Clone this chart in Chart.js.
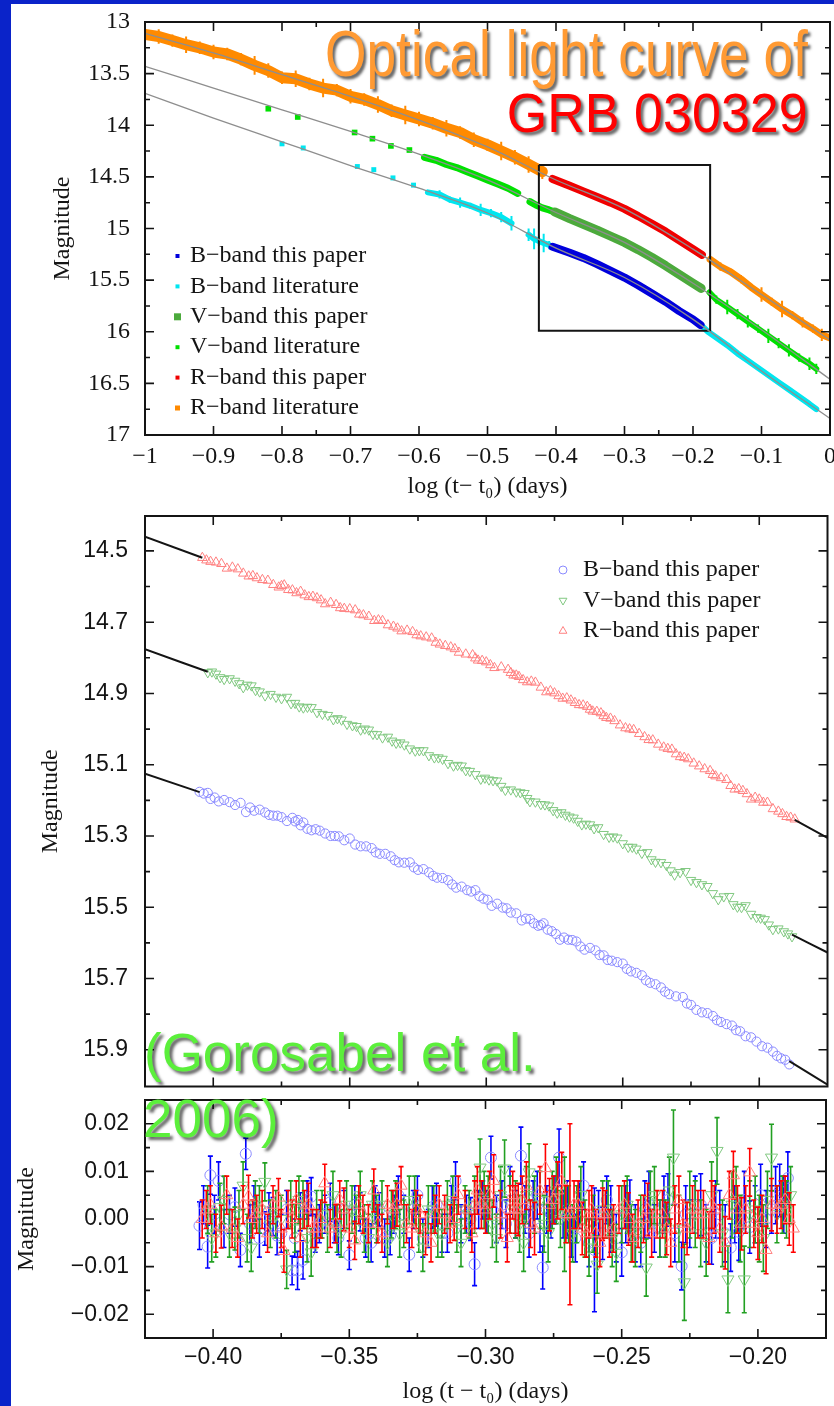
<!DOCTYPE html>
<html>
<head>
<meta charset="utf-8">
<title>Optical light curve of GRB 030329</title>
<script src="https://cdn.jsdelivr.net/npm/chart.js@4.4.1/dist/chart.umd.min.js"></script>
<style>
  html, body { margin: 0; padding: 0; }
  body { position: relative; width: 834px; height: 1406px; overflow: hidden; background: #0a23c9; }
  #sheet { position: absolute; left: 11px; top: 4px; right: 0; bottom: 0; background: #fff; }
  canvas { position: absolute; left: 11px; }
  #topCanvas { top: 4px; }
  #midCanvas { top: 505px; }
  #resCanvas { top: 1092px; }
  .note { position: absolute; z-index: 2; white-space: nowrap;
          font-family: "Liberation Sans", Arial, Helvetica, sans-serif;
          text-shadow: 3px 3px 3px rgba(0, 0, 0, 0.6); }
  #line1 { right: 26px; top: 21px; font-size: 65px; line-height: 65px; color: #ff9a33;
           transform: scaleX(0.82); transform-origin: right center; }
  #line2 { right: 26px; top: 85px; font-size: 56px; line-height: 56px; color: #ff0000;
           transform: scaleX(0.93); transform-origin: right center; }
  #cite1 { left: 144px; top: 1026px; font-size: 53px; line-height: 53px; color: #5bef3b; }
  #cite2 { left: 143px; top: 1092px; font-size: 53px; line-height: 53px; color: #5bef3b; }
</style>
</head>
<body>
<div id="sheet"></div>
<canvas id="topCanvas" width="823" height="501"></canvas>
<canvas id="midCanvas" width="823" height="588"></canvas>
<canvas id="resCanvas" width="823" height="314"></canvas>
<div class="note" id="line1">Optical light curve of</div>
<div class="note" id="line2">GRB 030329</div>
<div class="note" id="cite1">(Gorosabel et al.</div>
<div class="note" id="cite2">2006)</div>
<script>
const SERIF = '"Liberation Serif", "Times New Roman", Times, serif';
const SANS = '"Liberation Sans", Arial, Helvetica, sans-serif';
const INK = '#141414';

// ---------- top panel: whole light curve ----------
const topXTicks = [-1, -0.9, -0.8, -0.7, -0.6, -0.5, -0.4, -0.3, -0.2, -0.1, 0];
const topXLabels = ['−1', '−0.9', '−0.8', '−0.7', '−0.6', '−0.5', '−0.4', '−0.3', '−0.2', '−0.1', '0'];
const topXMinor = [-0.75, -0.25];
const topYTicks = [13, 13.5, 14, 14.5, 15, 15.5, 16, 16.5, 17];
const topYLabels = ['13', '13.5', '14', '14.5', '15', '15.5', '16', '16.5', '17'];
const topYMinor = [13.25, 13.75, 14.25, 14.75, 15.25, 15.75, 16.25, 16.75];
const topLegendLabels = ['B−band this paper', 'B−band literature', 'V−band this paper',
                         'V−band literature', 'R−band this paper', 'R−band literature'];

// grey model curves
const fitTopX = [-1, -0.9, -0.8, -0.7, -0.6, -0.5, -0.4, -0.3, -0.2, -0.1, 0];
const rFitTop = [13.11, 13.30, 13.51, 13.72, 13.95, 14.21, 14.53, 14.81, 15.20, 15.64, 16.08];
const vFitTop = [13.43, 13.64, 13.85, 14.06, 14.28, 14.53, 14.845, 15.135, 15.53, 15.98, 16.46];
const bFitTop = [13.69, 13.93, 14.16, 14.39, 14.61, 14.85, 15.19, 15.475, 15.88, 16.38, 16.84];

// zoom window drawn on the top panel
const boxX = [-0.425, -0.175, -0.175, -0.425, -0.425];
const boxY = [14.385, 14.385, 15.99, 15.99, 14.385];

// R band
const rLitEarlyX = [-1.00, -0.98, -0.96, -0.94, -0.92, -0.90, -0.88, -0.86, -0.84, -0.82,
                    -0.80, -0.78, -0.76, -0.74, -0.72, -0.70, -0.68, -0.66, -0.64, -0.62,
                    -0.60, -0.58, -0.56, -0.54, -0.52, -0.50, -0.48, -0.46, -0.44, -0.42];
const rLitEarlyY = [13.12, 13.14, 13.18, 13.22, 13.25, 13.29, 13.31, 13.36, 13.42, 13.47,
                    13.54, 13.55, 13.60, 13.64, 13.66, 13.72, 13.75, 13.80, 13.86, 13.90,
                    13.94, 13.98, 14.03, 14.07, 14.14, 14.19, 14.25, 14.31, 14.38, 14.45];
const rLitEarlyErr = [0.06, 0.07, 0.06, 0.08, 0.06, 0.07, 0.06, 0.06, 0.09, 0.07,
                      0.06, 0.08, 0.06, 0.09, 0.06, 0.07, 0.06, 0.08, 0.06, 0.09,
                      0.07, 0.06, 0.08, 0.06, 0.07, 0.06, 0.09, 0.07, 0.08, 0.07];
const rLitLateX = [-0.175, -0.16, -0.145, -0.13, -0.115, -0.10, -0.085, -0.07, -0.055, -0.04, -0.025, -0.012, 0.0];
const rLitLateY = [15.30, 15.37, 15.42, 15.49, 15.57, 15.64, 15.71, 15.78, 15.84, 15.91, 15.97, 16.03, 16.06];
const rLitLateErr = [0.03, 0.04, 0.03, 0.04, 0.03, 0.07, 0.04, 0.08, 0.04, 0.05, 0.04, 0.06, 0.04];
const rPaperX = [-0.405, -0.38, -0.36, -0.34, -0.32, -0.30, -0.28, -0.26, -0.24, -0.22, -0.20, -0.187];
const rPaperY = [14.52, 14.585, 14.64, 14.695, 14.75, 14.81, 14.88, 14.955, 15.03, 15.115, 15.20, 15.255];

// V band
const vLitDotsX = [-0.82, -0.777, -0.694, -0.668, -0.641, -0.614];
const vLitDotsY = [13.84, 13.92, 14.07, 14.13, 14.20, 14.24];
const vLitEarlyX = [-0.592, -0.575, -0.56, -0.545, -0.53, -0.515, -0.50, -0.485, -0.47, -0.456];
const vLitEarlyY = [14.31, 14.34, 14.38, 14.41, 14.45, 14.49, 14.53, 14.57, 14.61, 14.66];
const vLitMidX = [-0.438, -0.43, -0.42, -0.41, -0.402];
const vLitMidY = [14.74, 14.77, 14.80, 14.82, 14.84];
const vLitLateX = [-0.176, -0.166, -0.15, -0.135, -0.12, -0.105, -0.09, -0.075, -0.06, -0.045, -0.03, -0.02];
const vLitLateY = [15.62, 15.69, 15.76, 15.83, 15.90, 15.97, 16.04, 16.11, 16.18, 16.25, 16.31, 16.36];
const vLitLateErr = [0.03, 0.04, 0.07, 0.05, 0.06, 0.04, 0.07, 0.05, 0.06, 0.04, 0.06, 0.05];
const vPaperX = [-0.402, -0.38, -0.36, -0.34, -0.32, -0.30, -0.28, -0.26, -0.24, -0.22, -0.20, -0.188];
const vPaperY = [14.84, 14.905, 14.96, 15.015, 15.075, 15.135, 15.205, 15.28, 15.36, 15.445, 15.53, 15.58];

// B band
const bLitDotsX = [-0.80, -0.769, -0.69, -0.666, -0.638, -0.608];
const bLitDotsY = [14.18, 14.22, 14.40, 14.43, 14.51, 14.58];
const bLitEarlyX = [-0.587, -0.57, -0.555, -0.54, -0.525, -0.51, -0.495, -0.48, -0.465];
const bLitEarlyY = [14.65, 14.67, 14.72, 14.75, 14.78, 14.82, 14.85, 14.89, 14.95];
const bLitEarlyErr = [0.02, 0.04, 0.03, 0.05, 0.03, 0.06, 0.04, 0.05, 0.07];
const bLitMidX = [-0.44, -0.432, -0.425, -0.418, -0.41];
const bLitMidY = [15.06, 15.10, 15.12, 15.14, 15.16];
const bLitMidErr = [0.06, 0.10, 0.05, 0.09, 0.04];
const bLitLateX = [-0.186, -0.178, -0.165, -0.15, -0.135, -0.12, -0.105, -0.09, -0.075, -0.06, -0.045, -0.03, -0.02];
const bLitLateY = [15.95, 16.00, 16.06, 16.13, 16.21, 16.28, 16.35, 16.42, 16.49, 16.56, 16.63, 16.70, 16.75];
const bPaperX = [-0.405, -0.38, -0.36, -0.34, -0.32, -0.30, -0.28, -0.26, -0.24, -0.22, -0.20, -0.189];
const bPaperY = [15.177, 15.235, 15.285, 15.345, 15.41, 15.475, 15.55, 15.63, 15.71, 15.80, 15.88, 15.935];

// ---------- middle panel (zoom) and bottom panel (residuals) ----------
const zoomXTicks = [-0.40, -0.35, -0.30, -0.25, -0.20];
const zoomXLabels = ['−0.40', '−0.35', '−0.30', '−0.25', '−0.20'];
const zoomXMinor = [-0.375, -0.325, -0.275, -0.225];
const midYTicks = [14.5, 14.7, 14.9, 15.1, 15.3, 15.5, 15.7, 15.9];
const midYLabels = ['14.5', '14.7', '14.9', '15.1', '15.3', '15.5', '15.7', '15.9'];
const midYMinor = [14.6, 14.8, 15.0, 15.2, 15.4, 15.6, 15.8];
const resYTicks = [-0.02, -0.01, 0, 0.01, 0.02];
const resYLabels = ['−0.02', '−0.01', '0.00', '0.01', '0.02'];
const resYMinor = [-0.015, -0.005, 0.005, 0.015];
const midLegendLabels = ['B−band this paper', 'V−band this paper', 'R−band this paper'];

// black model pieces outside the data
const rHeadX = [-0.425, -0.404], rHeadY = [14.46, 14.519];
const rTailX = [-0.187, -0.175], rTailY = [15.255, 15.305];
const vHeadX = [-0.425, -0.402], vHeadY = [14.776, 14.839];
const vTailX = [-0.188, -0.175], vTailY = [15.577, 15.627];
const bHeadX = [-0.425, -0.405], bHeadY = [15.125, 15.177];
const bTailX = [-0.189, -0.175], bTailY = [15.932, 15.998];

// B band, this paper: epoch, magnitude, residual, error
const bX = [-0.4050, -0.4035, -0.4020, -0.4010, -0.3995, -0.3980, -0.3960, -0.3940, -0.3920, -0.3900,
            -0.3880, -0.3865, -0.3850, -0.3830, -0.3810, -0.3795, -0.3780, -0.3765, -0.3750, -0.3730,
            -0.3710, -0.3700, -0.3690, -0.3680, -0.3670, -0.3655, -0.3640, -0.3625, -0.3610, -0.3590,
            -0.3570, -0.3555, -0.3540, -0.3520, -0.3500, -0.3480, -0.3460, -0.3440, -0.3420, -0.3405,
            -0.3390, -0.3370, -0.3350, -0.3335, -0.3320, -0.3300, -0.3280, -0.3265, -0.3250, -0.3230,
            -0.3210, -0.3195, -0.3180, -0.3160, -0.3140, -0.3125, -0.3110, -0.3090, -0.3070, -0.3055,
            -0.3040, -0.3025, -0.3010, -0.2995, -0.2980, -0.2960, -0.2940, -0.2925, -0.2910, -0.2890,
            -0.2870, -0.2855, -0.2840, -0.2825, -0.2810, -0.2800, -0.2790, -0.2775, -0.2760, -0.2745,
            -0.2730, -0.2715, -0.2700, -0.2685, -0.2670, -0.2655, -0.2640, -0.2620, -0.2600, -0.2585,
            -0.2570, -0.2555, -0.2540, -0.2520, -0.2500, -0.2485, -0.2470, -0.2450, -0.2430, -0.2415,
            -0.2400, -0.2380, -0.2360, -0.2345, -0.2330, -0.2305, -0.2280, -0.2265, -0.2250, -0.2230,
            -0.2210, -0.2190, -0.2170, -0.2155, -0.2140, -0.2120, -0.2100, -0.2085, -0.2070, -0.2050,
            -0.2030, -0.2010, -0.1990, -0.1970, -0.1950, -0.1935, -0.1920, -0.1905, -0.1890];
const bMag = [15.176, 15.181, 15.179, 15.196, 15.192, 15.203, 15.199, 15.205, 15.213, 15.207,
              15.233, 15.220, 15.229, 15.226, 15.234, 15.241, 15.243, 15.243, 15.247, 15.258,
              15.249, 15.259, 15.255, 15.270, 15.262, 15.280, 15.284, 15.281, 15.285, 15.293,
              15.300, 15.300, 15.301, 15.312, 15.307, 15.324, 15.329, 15.329, 15.334, 15.346,
              15.350, 15.350, 15.357, 15.368, 15.374, 15.375, 15.374, 15.388, 15.395, 15.393,
              15.402, 15.412, 15.417, 15.418, 15.424, 15.436, 15.445, 15.442, 15.452, 15.456,
              15.452, 15.469, 15.476, 15.479, 15.496, 15.490, 15.501, 15.503, 15.515, 15.517,
              15.537, 15.532, 15.533, 15.545, 15.552, 15.550, 15.545, 15.563, 15.567, 15.575,
              15.591, 15.585, 15.591, 15.592, 15.596, 15.610, 15.619, 15.614, 15.621, 15.634,
              15.635, 15.648, 15.650, 15.654, 15.658, 15.673, 15.680, 15.684, 15.691, 15.705,
              15.712, 15.716, 15.725, 15.737, 15.744, 15.750, 15.752, 15.770, 15.774, 15.788,
              15.795, 15.797, 15.805, 15.817, 15.822, 15.828, 15.832, 15.845, 15.848, 15.862,
              15.865, 15.877, 15.890, 15.894, 15.905, 15.917, 15.924, 15.928, 15.941];
const bRes = [-0.0014, 0.0030, -0.0058, 0.0092, 0.0010, 0.0080, -0.0020, 0.0010, 0.0025, -0.0065,
              0.0137, -0.0010, 0.0030, -0.0040, -0.0020, 0.0015, 0.0005, -0.0035, -0.0030, 0.0020,
              -0.0108, -0.0040, -0.0108, 0.0015, -0.0086, 0.0040, 0.0047, -0.0030, -0.0010, 0.0010,
              0.0035, -0.0010, -0.0040, 0.0020, -0.0076, 0.0030, 0.0015, -0.0040, -0.0050, 0.0030,
              0.0020, -0.0040, -0.0035, 0.0010, 0.0050, 0.0010, -0.0075, 0.0020, 0.0050, -0.0040,
              -0.0020, 0.0025, 0.0030, -0.0030, -0.0030, 0.0030, 0.0080, -0.0010, 0.0010, 0.0000,
              -0.0095, 0.0020, 0.0040, 0.0015, 0.0129, 0.0000, 0.0030, -0.0010, 0.0060, 0.0010,
              0.0133, 0.0020, -0.0030, 0.0030, 0.0050, -0.0020, -0.0102, 0.0020, 0.0010, 0.0040,
              0.0129, 0.0010, 0.0020, -0.0030, -0.0040, 0.0030, 0.0070, -0.0050, -0.0065, 0.0010,
              -0.0030, 0.0040, 0.0000, -0.0040, -0.0070, 0.0010, 0.0017, -0.0030, -0.0050, 0.0020,
              0.0030, -0.0020, -0.0020, 0.0030, 0.0040, -0.0030, -0.0099, 0.0010, -0.0010, 0.0030,
              0.0030, -0.0030, -0.0040, 0.0020, 0.0010, -0.0030, -0.0060, 0.0010, -0.0027, 0.0040,
              -0.0017, 0.0010, 0.0050, 0.0000, 0.0020, 0.0050, 0.0060, 0.0030, 0.0086];
const bErr = [0.005, 0.004, 0.0045, 0.004, 0.004, 0.004, 0.004, 0.004, 0.004, 0.0035,
              0.0033, 0.004, 0.004, 0.004, 0.0035, 0.004, 0.004, 0.004, 0.004, 0.004,
              0.003, 0.004, 0.004, 0.004, 0.004, 0.004, 0.004, 0.004, 0.004, 0.004,
              0.004, 0.004, 0.0035, 0.004, 0.003, 0.004, 0.004, 0.004, 0.004, 0.004,
              0.0035, 0.004, 0.004, 0.004, 0.004, 0.004, 0.0035, 0.004, 0.004, 0.004,
              0.004, 0.0045, 0.0045, 0.004, 0.004, 0.004, 0.004, 0.004, 0.004, 0.0045,
              0.0045, 0.004, 0.004, 0.0045, 0.0045, 0.005, 0.005, 0.005, 0.005, 0.005,
              0.006, 0.005, 0.005, 0.005, 0.005, 0.005, 0.0045, 0.005, 0.005, 0.005,
              0.006, 0.005, 0.006, 0.005, 0.005, 0.005, 0.005, 0.005, 0.013, 0.005,
              0.0055, 0.005, 0.007, 0.005, 0.005, 0.006, 0.0065, 0.006, 0.005, 0.006,
              0.007, 0.005, 0.006, 0.006, 0.0055, 0.006, 0.005, 0.006, 0.005, 0.006,
              0.0065, 0.006, 0.0055, 0.006, 0.005, 0.006, 0.005, 0.006, 0.006, 0.006,
              0.0055, 0.006, 0.0065, 0.006, 0.005, 0.006, 0.0055, 0.006, 0.0055];

// V band, this paper
const vX = [-0.4020, -0.4005, -0.3990, -0.3975, -0.3960, -0.3940, -0.3920, -0.3905, -0.3890, -0.3875,
            -0.3860, -0.3845, -0.3830, -0.3810, -0.3790, -0.3770, -0.3750, -0.3730, -0.3715, -0.3700,
            -0.3685, -0.3670, -0.3655, -0.3640, -0.3620, -0.3600, -0.3580, -0.3560, -0.3545, -0.3530,
            -0.3510, -0.3490, -0.3475, -0.3460, -0.3445, -0.3430, -0.3415, -0.3400, -0.3380, -0.3360,
            -0.3345, -0.3330, -0.3315, -0.3300, -0.3280, -0.3260, -0.3245, -0.3230, -0.3210, -0.3190,
            -0.3175, -0.3160, -0.3140, -0.3120, -0.3105, -0.3090, -0.3075, -0.3060, -0.3040, -0.3020,
            -0.3005, -0.2990, -0.2975, -0.2960, -0.2945, -0.2930, -0.2910, -0.2890, -0.2875, -0.2860,
            -0.2850, -0.2840, -0.2820, -0.2800, -0.2785, -0.2770, -0.2755, -0.2740, -0.2725, -0.2710,
            -0.2695, -0.2680, -0.2665, -0.2650, -0.2635, -0.2620, -0.2605, -0.2590, -0.2570, -0.2550,
            -0.2535, -0.2520, -0.2500, -0.2480, -0.2465, -0.2450, -0.2430, -0.2410, -0.2395, -0.2380,
            -0.2360, -0.2340, -0.2325, -0.2310, -0.2290, -0.2270, -0.2250, -0.2230, -0.2210, -0.2190,
            -0.2170, -0.2150, -0.2130, -0.2110, -0.2095, -0.2080, -0.2065, -0.2050, -0.2030, -0.2010,
            -0.1995, -0.1980, -0.1965, -0.1950, -0.1930, -0.1910, -0.1895, -0.1880];
const vMag = [14.841, 14.839, 14.845, 14.855, 14.860, 14.858, 14.865, 14.872, 14.883, 14.876,
              14.878, 14.891, 14.895, 14.906, 14.902, 14.910, 14.914, 14.910, 14.928, 14.927,
              14.937, 14.940, 14.938, 14.939, 14.953, 14.958, 14.961, 14.973, 14.970, 14.974,
              14.986, 14.990, 14.992, 15.002, 14.999, 15.002, 15.014, 15.015, 15.024, 15.022,
              15.033, 15.039, 15.038, 15.044, 15.055, 15.061, 15.060, 15.060, 15.074, 15.080,
              15.080, 15.084, 15.096, 15.103, 15.101, 15.103, 15.116, 15.118, 15.127, 15.140,
              15.137, 15.142, 15.144, 15.145, 15.160, 15.171, 15.170, 15.176, 15.178, 15.180,
              15.194, 15.203, 15.204, 15.211, 15.212, 15.215, 15.228, 15.235, 15.234, 15.241,
              15.246, 15.249, 15.258, 15.268, 15.266, 15.268, 15.279, 15.276, 15.295, 15.303,
              15.302, 15.305, 15.321, 15.331, 15.331, 15.336, 15.348, 15.346, 15.366, 15.373,
              15.374, 15.382, 15.397, 15.409, 15.402, 15.399, 15.424, 15.430, 15.436, 15.441,
              15.461, 15.478, 15.470, 15.469, 15.492, 15.499, 15.500, 15.495, 15.519, 15.528,
              15.530, 15.534, 15.549, 15.562, 15.560, 15.568, 15.574, 15.582];
const vRes = [0.0020, -0.0040, -0.0030, 0.0025, 0.0040, -0.0030, -0.0020, 0.0010, 0.0070, -0.0040,
              -0.0060, 0.0030, 0.0020, 0.0078, -0.0010, 0.0010, 0.0000, -0.0106, 0.0030, -0.0020,
              0.0040, 0.0030, -0.0040, -0.0070, 0.0010, 0.0010, -0.0020, 0.0050, -0.0020, -0.0030,
              0.0030, 0.0020, 0.0000, 0.0050, -0.0020, -0.0040, 0.0030, 0.0000, 0.0030, -0.0050,
              0.0010, 0.0030, -0.0030, -0.0010, 0.0040, 0.0040, -0.0020, -0.0060, 0.0020, 0.0020,
              -0.0030, -0.0030, 0.0030, 0.0040, -0.0020, -0.0050, 0.0020, 0.0010, 0.0030, 0.0108,
              0.0040, 0.0030, -0.0010, -0.0040, 0.0050, 0.0106, 0.0030, 0.0020, -0.0010, -0.0050,
              0.0050, 0.0098, 0.0030, 0.0040, -0.0010, -0.0030, 0.0040, 0.0060, 0.0000, 0.0010,
              0.0010, -0.0030, 0.0010, 0.0050, -0.0020, -0.0060, -0.0010, -0.0096, 0.0020, 0.0020,
              -0.0040, -0.0071, 0.0010, 0.0030, -0.0030, -0.0040, -0.0010, -0.0102, 0.0040, 0.0050,
              -0.0020, -0.0020, 0.0060, 0.0129, -0.0020, -0.0133, 0.0030, 0.0010, -0.0030, -0.0050,
              0.0050, 0.0143, -0.0030, -0.0127, 0.0030, 0.0040, -0.0020, -0.0127, 0.0010, 0.0020,
              -0.0020, -0.0040, 0.0040, 0.0129, 0.0010, 0.0030, 0.0020, 0.0050];
const vErr = [0.005, 0.005, 0.005, 0.005, 0.005, 0.005, 0.0045, 0.005, 0.005, 0.005,
              0.005, 0.005, 0.005, 0.004, 0.005, 0.005, 0.005, 0.004, 0.005, 0.005,
              0.005, 0.005, 0.005, 0.005, 0.005, 0.005, 0.005, 0.005, 0.005, 0.005,
              0.005, 0.005, 0.005, 0.005, 0.005, 0.005, 0.005, 0.005, 0.005, 0.005,
              0.005, 0.005, 0.005, 0.005, 0.005, 0.005, 0.005, 0.005, 0.005, 0.005,
              0.005, 0.005, 0.005, 0.005, 0.005, 0.005, 0.005, 0.005, 0.006, 0.006,
              0.006, 0.006, 0.005, 0.005, 0.006, 0.006, 0.006, 0.006, 0.006, 0.006,
              0.006, 0.006, 0.006, 0.006, 0.006, 0.006, 0.006, 0.007, 0.006, 0.012,
              0.006, 0.006, 0.006, 0.006, 0.006, 0.006, 0.006, 0.006, 0.006, 0.006,
              0.006, 0.006, 0.006, 0.006, 0.006, 0.006, 0.006, 0.006, 0.006, 0.006,
              0.006, 0.006, 0.007, 0.010, 0.007, 0.008, 0.007, 0.007, 0.007, 0.007,
              0.007, 0.007, 0.007, 0.007, 0.007, 0.007, 0.007, 0.007, 0.007, 0.007,
              0.007, 0.007, 0.006, 0.007, 0.006, 0.006, 0.006, 0.006];

// R band, this paper
const rX = [-0.4040, -0.4025, -0.4010, -0.3990, -0.3970, -0.3950, -0.3930, -0.3910, -0.3890, -0.3870,
            -0.3855, -0.3840, -0.3820, -0.3800, -0.3780, -0.3760, -0.3750, -0.3740, -0.3725, -0.3710,
            -0.3695, -0.3680, -0.3665, -0.3650, -0.3635, -0.3620, -0.3605, -0.3590, -0.3570, -0.3550,
            -0.3535, -0.3520, -0.3500, -0.3480, -0.3465, -0.3450, -0.3430, -0.3410, -0.3395, -0.3380,
            -0.3360, -0.3340, -0.3325, -0.3310, -0.3290, -0.3270, -0.3255, -0.3240, -0.3220, -0.3200,
            -0.3185, -0.3170, -0.3150, -0.3130, -0.3115, -0.3100, -0.3075, -0.3050, -0.3040, -0.3030,
            -0.3015, -0.3000, -0.2985, -0.2970, -0.2945, -0.2920, -0.2910, -0.2900, -0.2890, -0.2880,
            -0.2865, -0.2850, -0.2835, -0.2820, -0.2800, -0.2780, -0.2765, -0.2750, -0.2735, -0.2720,
            -0.2705, -0.2690, -0.2675, -0.2660, -0.2645, -0.2630, -0.2620, -0.2610, -0.2595, -0.2580,
            -0.2570, -0.2560, -0.2545, -0.2530, -0.2510, -0.2490, -0.2475, -0.2460, -0.2440, -0.2420,
            -0.2405, -0.2390, -0.2370, -0.2350, -0.2335, -0.2320, -0.2305, -0.2290, -0.2275, -0.2260,
            -0.2240, -0.2220, -0.2200, -0.2180, -0.2170, -0.2160, -0.2140, -0.2120, -0.2105, -0.2090,
            -0.2075, -0.2060, -0.2045, -0.2030, -0.2015, -0.2000, -0.1985, -0.1970, -0.1950, -0.1930,
            -0.1915, -0.1900, -0.1885, -0.1870];
const rMag = [14.519, 14.526, 14.530, 14.532, 14.536, 14.549, 14.546, 14.551, 14.563, 14.571,
              14.570, 14.576, 14.581, 14.583, 14.595, 14.602, 14.598, 14.596, 14.609, 14.610,
              14.618, 14.614, 14.624, 14.629, 14.628, 14.632, 14.638, 14.649, 14.645, 14.651,
              14.660, 14.662, 14.663, 14.666, 14.678, 14.680, 14.684, 14.696, 14.694, 14.696,
              14.708, 14.712, 14.717, 14.725, 14.723, 14.727, 14.736, 14.739, 14.742, 14.745,
              14.757, 14.762, 14.766, 14.770, 14.775, 14.785, 14.790, 14.792, 14.801, 14.807,
              14.808, 14.812, 14.820, 14.828, 14.826, 14.833, 14.842, 14.849, 14.849, 14.853,
              14.862, 14.868, 14.866, 14.869, 14.883, 14.896, 14.893, 14.899, 14.907, 14.914,
              14.913, 14.919, 14.926, 14.932, 14.933, 14.937, 14.945, 14.950, 14.951, 14.955,
              14.963, 14.968, 14.970, 14.977, 14.989, 14.997, 15.000, 15.002, 15.013, 15.022,
              15.030, 15.031, 15.043, 15.051, 15.055, 15.057, 15.070, 15.078, 15.080, 15.084,
              15.096, 15.104, 15.112, 15.117, 15.128, 15.132, 15.137, 15.142, 15.159, 15.169,
              15.168, 15.173, 15.182, 15.197, 15.192, 15.197, 15.206, 15.206, 15.224, 15.231,
              15.238, 15.246, 15.248, 15.253];
const rRes = [0.0000, 0.0020, 0.0030, -0.0030, -0.0016, 0.0050, -0.0020, -0.0040, 0.0030, 0.0047,
              0.0000, 0.0010, 0.0020, -0.0030, 0.0030, 0.0045, -0.0020, -0.0067, 0.0020, 0.0000,
              0.0040, -0.0040, 0.0020, 0.0030, -0.0020, -0.0020, 0.0000, 0.0075, -0.0020, -0.0010,
              0.0040, 0.0020, -0.0020, -0.0045, 0.0030, 0.0010, -0.0010, 0.0060, -0.0010, -0.0030,
              0.0030, 0.0020, 0.0030, 0.0070, -0.0010, -0.0020, 0.0020, 0.0010, -0.0030, -0.0050,
              0.0010, 0.0030, 0.0010, -0.0010, 0.0000, 0.0050, 0.0020, -0.0030, 0.0030, 0.0060,
              0.0030, 0.0020, 0.0050, 0.0080, 0.0010, -0.0040, 0.0020, 0.0050, 0.0020, 0.0020,
              0.0040, 0.0070, -0.0010, -0.0020, 0.0060, 0.0107, 0.0030, 0.0040, 0.0060, 0.0080,
              0.0010, 0.0010, 0.0030, 0.0030, -0.0020, -0.0030, 0.0010, 0.0020, -0.0030, -0.0050,
              0.0010, 0.0010, -0.0030, -0.0020, 0.0020, 0.0030, 0.0000, -0.0040, -0.0010, 0.0000,
              0.0020, -0.0030, 0.0010, 0.0010, -0.0020, -0.0050, 0.0020, 0.0040, -0.0010, -0.0020,
              0.0020, 0.0010, 0.0010, -0.0040, 0.0030, 0.0020, -0.0020, -0.0050, 0.0050, 0.0092,
              0.0020, -0.0010, 0.0020, 0.0098, -0.0010, -0.0030, 0.0000, -0.0065, 0.0030, 0.0020,
              0.0030, 0.0040, 0.0000, -0.0020];
const rErr = [0.004, 0.004, 0.004, 0.004, 0.0045, 0.004, 0.004, 0.004, 0.004, 0.0045,
              0.004, 0.004, 0.004, 0.004, 0.004, 0.004, 0.004, 0.0045, 0.004, 0.004,
              0.004, 0.004, 0.004, 0.0045, 0.004, 0.004, 0.004, 0.004, 0.004, 0.004,
              0.004, 0.0045, 0.004, 0.004, 0.004, 0.004, 0.004, 0.0045, 0.004, 0.004,
              0.004, 0.004, 0.0045, 0.004, 0.004, 0.004, 0.004, 0.004, 0.0045, 0.004,
              0.004, 0.004, 0.004, 0.004, 0.0045, 0.004, 0.004, 0.004, 0.005, 0.005,
              0.005, 0.005, 0.005, 0.0055, 0.005, 0.005, 0.005, 0.005, 0.005, 0.0055,
              0.005, 0.005, 0.005, 0.0055, 0.005, 0.005, 0.0055, 0.005, 0.006, 0.006,
              0.006, 0.019, 0.005, 0.005, 0.0055, 0.005, 0.005, 0.005, 0.005, 0.005,
              0.0055, 0.005, 0.005, 0.005, 0.005, 0.005, 0.0055, 0.005, 0.005, 0.005,
              0.0055, 0.005, 0.005, 0.005, 0.0055, 0.005, 0.005, 0.005, 0.005, 0.0055,
              0.005, 0.005, 0.005, 0.0055, 0.005, 0.005, 0.005, 0.0055, 0.005, 0.005,
              0.005, 0.0055, 0.005, 0.005, 0.005, 0.0055, 0.005, 0.005, 0.0055, 0.005,
              0.005, 0.005, 0.0055, 0.005];

// colours
const C = {
  bPaper: '#0000dc', bLit: '#00e6f0', vPaper: '#4caa3c', vLit: '#00e000',
  rPaper: '#f00000', rLit: '#ff8a00', fitGrey: '#8e8e8e',
  bSoft: '#8a8aff', vSoft: '#80c880', rSoft: '#ff8080',
  bBar: '#0000ff', vBar: '#22a022', rBar: '#ff0000'
};

function pts(xs, ys) {
  return xs.map((x, i) => ({x: x, y: ys[i]}));
}

function fitLine(xs, ys, color, width) {
  return {data: pts(xs, ys), showLine: true, borderColor: color, borderWidth: width,
          pointRadius: 0, cubicInterpolationMode: 'monotone', clip: 0, order: 0};
}

function band(xs, ys, color, width, err, order) {
  return {data: pts(xs, ys), showLine: true, borderColor: color, borderWidth: width,
          borderJoinStyle: 'round', borderCapStyle: 'round', pointRadius: 0, clip: 0,
          order: order || 2, yErr: err, errColor: color, errWidth: 2};
}

function dots(xs, ys, color, r) {
  return {data: pts(xs, ys), showLine: false, pointStyle: 'rect', pointRadius: r,
          backgroundColor: color, borderColor: color, borderWidth: 0, clip: 0, order: 2};
}

function hollow(xs, ys, color, style, rot, r) {
  return {data: pts(xs, ys), showLine: false, pointStyle: style, pointRotation: rot,
          pointRadius: r, borderColor: color, backgroundColor: 'rgba(0,0,0,0)',
          borderWidth: 1, clip: 0, order: 1};
}

function axisX(c) {
  return {
    type: 'linear', position: 'bottom', min: c.min, max: c.max,
    grid: {display: false, drawTicks: false}, border: {display: false},
    afterBuildTicks: s => { s.ticks = c.ticks.map(v => ({value: v})); },
    afterFit: s => { s.height = c.height; s.paddingLeft = 0; s.paddingRight = 0; },
    ticks: {display: !!c.labels, autoSkip: false, maxRotation: 0, minRotation: 0,
            padding: c.pad || 0, color: INK, font: c.font,
            callback: (v, i) => (c.labels ? c.labels[i] : '')},
    title: c.title
      ? {display: true, text: c.title, color: INK, font: {family: SERIF, size: 24},
         padding: {top: 0, bottom: c.titlePad}}
      : {display: false}
  };
}

function axisY(c) {
  return {
    type: 'linear', position: 'left', min: c.min, max: c.max, reverse: !!c.reverse,
    grid: {display: false, drawTicks: false}, border: {display: false},
    afterBuildTicks: s => { s.ticks = c.ticks.map(v => ({value: v})); },
    afterFit: s => { s.width = 134; s.paddingTop = 0; s.paddingBottom = 0; },
    ticks: {autoSkip: false, padding: c.pad, color: INK, font: c.font,
            callback: (v, i) => c.labels[i]},
    title: {display: true, text: 'Magnitude', color: INK, font: {family: SERIF, size: 24},
            padding: {top: c.titlePad, bottom: 0}}
  };
}

// frame with inward ticks on all four sides
function frameTicks(xMinor, yMinor) {
  return {
    id: 'frameTicks',
    afterDatasetsDraw(chart) {
      const {ctx, chartArea: a, scales: {x, y}} = chart;
      const line = (x1, y1, x2, y2) => { ctx.moveTo(x1, y1); ctx.lineTo(x2, y2); };
      ctx.save();
      ctx.strokeStyle = INK;
      ctx.lineWidth = 2;
      ctx.strokeRect(a.left, a.top, a.right - a.left, a.bottom - a.top);
      ctx.lineWidth = 1.6;
      ctx.beginPath();
      const tickX = (v, len) => {
        const px = x.getPixelForValue(v);
        line(px, a.bottom, px, a.bottom - len);
        line(px, a.top, px, a.top + len);
      };
      const tickY = (v, len) => {
        const py = y.getPixelForValue(v);
        line(a.left, py, a.left + len, py);
        line(a.right, py, a.right - len, py);
      };
      x.ticks.forEach(t => tickX(t.value, 9));
      y.ticks.forEach(t => tickY(t.value, 9));
      xMinor.forEach(v => tickX(v, 5));
      yMinor.forEach(v => tickY(v, 5));
      ctx.stroke();
      ctx.restore();
    }
  };
}

// vertical error bars, drawn just before each dataset's own marks
const errorBars = {
  id: 'errorBars',
  beforeDatasetDraw(chart, args) {
    const ds = chart.data.datasets[args.index];
    if (!ds.yErr) return;
    const {ctx, chartArea: a, scales: {x, y}} = chart;
    const cap = ds.errCap || 0;
    ctx.save();
    ctx.beginPath();
    ctx.rect(a.left, a.top, a.right - a.left, a.bottom - a.top);
    ctx.clip();
    ctx.strokeStyle = ds.errColor;
    ctx.lineWidth = ds.errWidth || 1.5;
    ctx.beginPath();
    ds.data.forEach((p, i) => {
      const px = x.getPixelForValue(p.x);
      const y1 = y.getPixelForValue(p.y - ds.yErr[i]);
      const y2 = y.getPixelForValue(p.y + ds.yErr[i]);
      ctx.moveTo(px, y1); ctx.lineTo(px, y2);
      if (cap) {
        ctx.moveTo(px - cap, y1); ctx.lineTo(px + cap, y1);
        ctx.moveTo(px - cap, y2); ctx.lineTo(px + cap, y2);
      }
    });
    ctx.stroke();
    ctx.restore();
  }
};

function drawMark(ctx, m, x, y) {
  const s = m.size;
  ctx.save();
  ctx.strokeStyle = m.color;
  ctx.fillStyle = m.color;
  ctx.lineWidth = 1;
  ctx.beginPath();
  if (m.style === 'rect') {
    ctx.fillRect(x - s / 2, y - s / 2, s, s);
  } else if (m.style === 'circle') {
    ctx.arc(x, y, s, 0, Math.PI * 2);
    ctx.stroke();
  } else {
    const d = m.style === 'down' ? -1 : 1;
    ctx.moveTo(x, y - d * s);
    ctx.lineTo(x + s * 0.87, y + d * s * 0.5);
    ctx.lineTo(x - s * 0.87, y + d * s * 0.5);
    ctx.closePath();
    ctx.stroke();
  }
  ctx.restore();
}

// legend sitting inside the plot frame
function boxLegend(items, markX, textX, y0, dy) {
  return {
    id: 'boxLegend',
    afterDraw(chart) {
      const ctx = chart.ctx;
      ctx.save();
      ctx.font = '24px ' + SERIF;
      ctx.textBaseline = 'middle';
      ctx.textAlign = 'left';
      items.forEach((it, i) => {
        const y = y0 + i * dy;
        drawMark(ctx, it, markX, y);
        ctx.fillStyle = INK;
        ctx.fillText(it.label, textX, y);
      });
      ctx.restore();
    }
  };
}

function baseOptions(pad, scales) {
  return {
    responsive: false, animation: false, devicePixelRatio: 1, events: [],
    layout: {padding: pad},
    plugins: {legend: {display: false}, tooltip: {enabled: false}},
    scales: scales
  };
}

// ---------- build top chart ----------
new Chart(document.getElementById('topCanvas'), {
  type: 'scatter',
  data: {
    datasets: [
      fitLine(fitTopX, rFitTop, C.fitGrey, 1.3),
      fitLine(fitTopX, vFitTop, C.fitGrey, 1.3),
      fitLine(fitTopX, bFitTop, C.fitGrey, 1.3),
      {data: pts(boxX, boxY), showLine: true, borderColor: INK, borderWidth: 2,
       pointRadius: 0, clip: 0, order: 0},
      band(rPaperX, rPaperY, C.rPaper, 8, null, 1),
      band(vPaperX, vPaperY, C.vPaper, 9, null, 1),
      band(bPaperX, bPaperY, C.bPaper, 8, null, 1),
      band(rLitEarlyX, rLitEarlyY, C.rLit, 11, rLitEarlyErr),
      band(rLitLateX, rLitLateY, C.rLit, 7, rLitLateErr),
      band(vLitEarlyX, vLitEarlyY, C.vLit, 7, null),
      band(vLitMidX, vLitMidY, C.vLit, 7, null),
      band(vLitLateX, vLitLateY, C.vLit, 6, vLitLateErr),
      band(bLitEarlyX, bLitEarlyY, C.bLit, 6, bLitEarlyErr),
      band(bLitMidX, bLitMidY, C.bLit, 6, bLitMidErr),
      band(bLitLateX, bLitLateY, C.bLit, 6, null),
      dots(vLitDotsX, vLitDotsY, C.vLit, 4),
      dots(bLitDotsX, bLitDotsY, C.bLit, 3.5)
    ]
  },
  options: baseOptions({left: 0, right: 3, top: 18, bottom: 0}, {
    x: axisX({min: -1, max: 0, ticks: topXTicks, labels: topXLabels, height: 70, pad: 7,
              font: {family: SERIF, size: 24}, title: 'log (t− t₀) (days)', titlePad: 4}),
    y: axisY({min: 13, max: 17, reverse: true, ticks: topYTicks, labels: topYLabels, pad: 15,
              font: {family: SERIF, size: 24}, titlePad: 37})
  }),
  plugins: [
    errorBars,
    frameTicks(topXMinor, topYMinor),
    boxLegend([
      {label: topLegendLabels[0], color: C.bPaper, style: 'rect', size: 4},
      {label: topLegendLabels[1], color: C.bLit, style: 'rect', size: 4},
      {label: topLegendLabels[2], color: C.vPaper, style: 'rect', size: 7},
      {label: topLegendLabels[3], color: C.vLit, style: 'rect', size: 4},
      {label: topLegendLabels[4], color: C.rPaper, style: 'rect', size: 4},
      {label: topLegendLabels[5], color: C.rLit, style: 'rect', size: 5}
    ], 166.5, 179, 252, 30.4)
  ]
});

// ---------- build middle chart ----------
new Chart(document.getElementById('midCanvas'), {
  type: 'scatter',
  data: {
    datasets: [
      fitLine(rHeadX, rHeadY, INK, 2), fitLine(rTailX, rTailY, INK, 2),
      fitLine(vHeadX, vHeadY, INK, 2), fitLine(vTailX, vTailY, INK, 2),
      fitLine(bHeadX, bHeadY, INK, 2), fitLine(bTailX, bTailY, INK, 2),
      hollow(rX, rMag, C.rSoft, 'triangle', 0, 5.5),
      hollow(vX, vMag, C.vSoft, 'triangle', 180, 5.5),
      hollow(bX, bMag, C.bSoft, 'circle', 0, 4.6)
    ]
  },
  options: baseOptions({left: 0, right: 3, top: 11, bottom: 0}, {
    x: axisX({min: -0.425, max: -0.175, ticks: zoomXTicks, labels: null, height: 2}),
    y: axisY({min: 14.402, max: 16.003, reverse: true, ticks: midYTicks, labels: midYLabels,
              pad: 17, font: {family: SANS, size: 23}, titlePad: 25})
  }),
  plugins: [
    frameTicks(zoomXMinor, midYMinor),
    boxLegend([
      {label: midLegendLabels[0], color: C.bSoft, style: 'circle', size: 4},
      {label: midLegendLabels[1], color: C.vSoft, style: 'down', size: 4.5},
      {label: midLegendLabels[2], color: C.rSoft, style: 'up', size: 4.5}
    ], 552, 572, 65, 30.5)
  ]
});

// ---------- build residual chart ----------
function resSet(xs, ys, err, soft, bar, style, rot, r) {
  const ds = hollow(xs, ys, soft, style, rot, r);
  ds.yErr = err;
  ds.errColor = bar;
  ds.errWidth = 1.6;
  ds.errCap = 2.5;
  return ds;
}

new Chart(document.getElementById('resCanvas'), {
  type: 'scatter',
  data: {
    datasets: [
      resSet(rX, rRes, rErr, C.rSoft, C.rBar, 'triangle', 0, 7),
      resSet(vX, vRes, vErr, C.vSoft, C.vBar, 'triangle', 180, 7),
      resSet(bX, bRes, bErr, C.bSoft, C.bBar, 'circle', 0, 5.5)
    ]
  },
  options: baseOptions({left: 0, right: 3, top: 1, bottom: 0}, {
    x: axisX({min: -0.425, max: -0.175, ticks: zoomXTicks, labels: zoomXLabels, height: 68,
              pad: 6, font: {family: SANS, size: 23}, title: 'log (t − t₀) (days)', titlePad: 0}),
    y: axisY({min: -0.025, max: 0.025, ticks: resYTicks, labels: resYLabels, pad: 16,
              font: {family: SANS, size: 23}, titlePad: 1})
  }),
  plugins: [errorBars, frameTicks(zoomXMinor, resYMinor)]
});
</script>
</body>
</html>
